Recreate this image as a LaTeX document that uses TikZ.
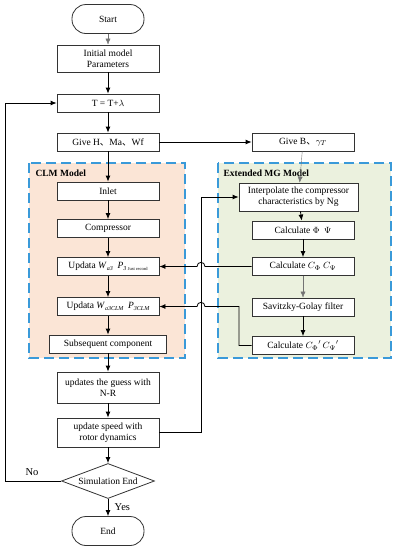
\documentclass[tikz,border=0pt]{standalone}
\usepackage{fontspec}
\setmainfont{Liberation Serif}
\newfontfamily\cjk{Noto Sans CJK SC}
\usetikzlibrary{arrows.meta,shapes.geometric}
\definecolor{peach}{HTML}{FBE5D6}
\definecolor{mint}{HTML}{EBF1DE}
\definecolor{dashblue}{HTML}{3A9AD9}
\newcommand{\dun}{{\cjk 、}}
\newcommand{\sbs}[1]{\raisebox{-2.2pt}{\fontsize{6}{7}\selectfont\itshape #1}}
\newcommand{\tsb}[1]{\raisebox{-2.2pt}{\fontsize{4.5}{5}\selectfont #1}}
\tikzset{
  box/.style={draw=black!80, fill=white, line width=0.8pt, minimum width=102pt, minimum height=18pt, inner sep=1pt, align=center, font=\fontsize{9.5}{11}\selectfont},
  term/.style={box, rounded corners=14pt, minimum width=72pt, minimum height=29pt},
  dec/.style={draw=black!80, fill=white, line width=0.8pt, diamond, aspect=2.66, minimum width=93pt, minimum height=35pt, inner sep=0pt, font=\fontsize{9.5}{11}\selectfont},
  arr/.style={line width=0.8pt, -{Latex[length=6pt,width=5pt]}},
  thin/.style={line width=0.4pt, draw=black!55, -{Latex[length=6pt,width=5pt]}},
  region/.style={draw=dashblue, line width=1.3pt, dash pattern=on 10pt off 5pt},
  rlabel/.style={font=\fontsize{9.5}{11}\selectfont\bfseries, anchor=west},
  lab/.style={font=\fontsize{10.5}{12}\selectfont}
}
\begin{document}
\begin{tikzpicture}[x=1pt,y=-1pt]
\useasboundingbox (0,0) rectangle (400,550);
% regions
\filldraw[region, fill=peach] (29,163) rectangle (185,358);
\filldraw[region, fill=mint] (218,163) rectangle (391,358);
\node[rlabel] (clml) at (32,173) {CLM Model};
\node[rlabel] (mgl) at (220,173) {Extended MG Model};
% main column
\node[term] (start) at (108,19) {Start};
\node[box, minimum height=27pt] (init) at (108,58.5) {Initial model\\Parameters};
\node[box] (t) at (108,103) {T = T+$\lambda$};
\node[box] (gh) at (108,142) {Give H\dun Ma\dun Wf};
\node[box] (inlet) at (108,191) {Inlet};
\node[box] (comp) at (108,228.5) {Compressor};
\node[box] (ua) at (108,266.5) {Updata \textit{W}\sbs{a3}\ \ \textit{P}\sbs{3}\,\tsb{Just record}};
\node[box] (ub) at (108,306.5) {Updata \textit{W}\sbs{a3CLM}\ \ \textit{P}\sbs{3CLM}};
\node[box, minimum width=117pt] (sub) at (108,344) {Subsequent component};
\node[box, minimum height=31pt] (nr) at (108,387.5) {updates the guess with\\N-R};
\node[box, minimum height=29pt] (us) at (108,432.5) {update speed with\\rotor dynamics};
\node[dec] (se) at (108,481) {Simulation End};
\node[term] (end) at (108,531) {End};
% MG column
\node[box] (gb) at (303,142) {Give B\dun $\gamma_T$};
\node[box, minimum width=119pt, minimum height=28pt] (ip) at (298.5,197) {Interpolate the compressor\\characteristics by Ng};
\node[box] (cpp) at (303,230) {Calculate $\Phi$\ \ $\Psi$};
\node[box] (cc) at (303,266.5) {Calculate $C_{\Phi}$ $C_{\Psi}$};
\node[box] (sg) at (303,307) {Savitzky-Golay filter};
\node[box] (cp) at (303,345.5) {Calculate $C_{\Phi}{}'\,C_{\Psi}{}'$};
% main flow
\draw[thin] (start) -- (init);
\draw[arr] (init) -- (t);
\draw[arr] (t) -- (gh);
\draw[arr] (gh) -- (inlet);
\draw[arr] (inlet) -- (comp);
\draw[arr] (comp) -- (ua);
\draw[arr] (ua) -- (ub);
\draw[arr] (ub) -- (sub);
\draw[arr] (sub) -- (nr);
\draw[arr] (nr) -- (us);
\draw[arr] (us) -- (se);
\draw[arr] (se) -- (end) node[lab, pos=0.45, right=3pt] {Yes};
% left loop
\coordinate (lv) at (5,481);
\draw[arr] (se.west) -- (lv) |- (t.west);
\node[lab] (no) at (32,472) {No};
% right loop
\coordinate (rv) at (201,197);
\draw[arr] (us.east) -| (rv) -- (ip.west);
% MG flow
\draw[arr] (gh) -- (gb);
\draw[thin] (gb) -- (ip);
\draw[arr] (ip) -- (cpp);
\draw[arr] (cpp) -- (cc);
\draw[thin] (cc) -- (sg);
\draw[arr] (sg) -- (cp);
% cross links with hops
\coordinate (h1) at (205,266.5);
\coordinate (h2) at (197,266.5);
\draw[arr] (cc.west) -- (h1) .. controls (205,261) and (197,261) .. (h2) -- (ua.east);
\coordinate (k1) at (239,345.5);
\coordinate (k2) at (239,306.5);
\coordinate (k3) at (205,306.5);
\coordinate (k4) at (197,306.5);
\draw[arr] (cp.west) -- (k1) -- (k2) -- (k3) .. controls (205,301) and (197,301) .. (k4) -- (ub.east);
\end{tikzpicture}
\end{document}
